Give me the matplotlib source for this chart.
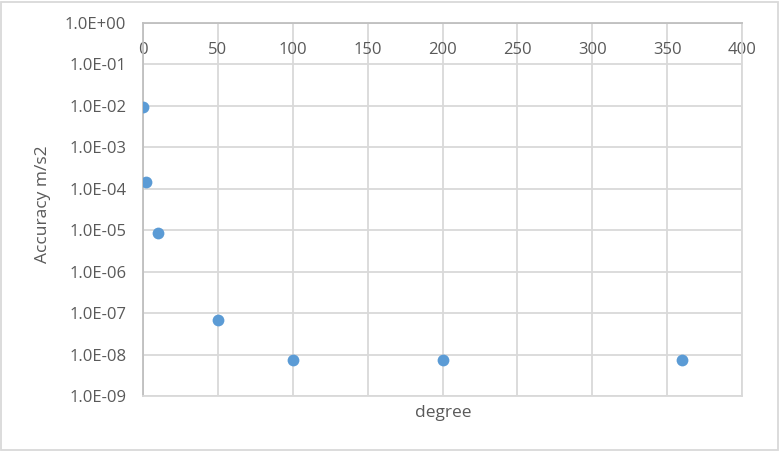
import matplotlib
matplotlib.use("Agg")
import matplotlib.pyplot as plt
from matplotlib.patches import Rectangle

degree = [0, 2, 10, 50, 100, 200, 360]
accuracy = [9.4e-3, 1.46e-4, 8.6e-6, 6.8e-8, 7.4e-9, 7.4e-9, 7.4e-9]
x_ticks = [0, 50, 100, 150, 200, 250, 300, 350, 400]
y_ticks = [1e0, 1e-1, 1e-2, 1e-3, 1e-4, 1e-5, 1e-6, 1e-7, 1e-8, 1e-9]
y_labels = ["1.0E+00", "1.0E-01", "1.0E-02", "1.0E-03", "1.0E-04",
            "1.0E-05", "1.0E-06", "1.0E-07", "1.0E-08", "1.0E-09"]

plt.rcParams['font.family'] = ['Open Sans', 'DejaVu Sans']
txt = '#595959'
W, H = 780, 451
fig = plt.figure(figsize=(W/100, H/100), dpi=100)
ax = fig.add_axes([143/W, 1-396/H, (742-143)/W, (396-23)/H])

ax.scatter(degree, accuracy, s=72, color='#5B9BD5', zorder=3, linewidths=0)
ax.set_yscale('log')
ax.set_xlim(0, 400)
ax.set_ylim(1e-9, 1e0)
ax.xaxis.tick_top()
ax.set_xticks(x_ticks)
ax.set_xticklabels([str(v) for v in x_ticks])
ax.set_yticks(y_ticks)
ax.set_yticklabels(y_labels)
ax.yaxis.set_minor_locator(matplotlib.ticker.NullLocator())
ax.grid(True, color='#D9D9D9', linewidth=1.3, zorder=0)
ax.set_axisbelow(True)
ax.tick_params(axis='both', length=0, labelsize=12, colors=txt)
ax.tick_params(axis='x', pad=-25)
ax.tick_params(axis='y', pad=12)
for s in ['right', 'bottom']:
    ax.spines[s].set_color('#D9D9D9')
    ax.spines[s].set_linewidth(1.3)
for s in ['top', 'left']:
    ax.spines[s].set_color('#BFBFBF')
    ax.spines[s].set_linewidth(1.3)

fig.text(443/W, 1-413/H, 'degree', ha='center', va='center', fontsize=12.5, color=txt)
fig.text(43/W, 1-204/H, 'Accuracy m/s2', ha='center', va='center', fontsize=12.5,
         color=txt, rotation=90)

fig.patches.append(Rectangle((1/W, 1/H), 1-3/W, 1-3/H, transform=fig.transFigure,
                             fill=False, edgecolor='#D9D9D9', linewidth=1.3))
fig.savefig('out.png', dpi=100)
